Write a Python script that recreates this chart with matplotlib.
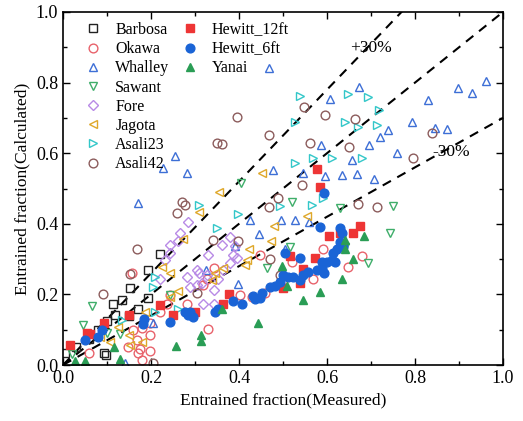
import matplotlib
matplotlib.use('Agg')
import matplotlib.pyplot as plt
from matplotlib.ticker import MultipleLocator

plt.rcParams['font.family'] = 'Liberation Serif'

# measured vs calculated entrained fraction, one list pair per data source
barbosa_x = [0.005, 0.030, 0.060, 0.080, 0.092, 0.098, 0.100, 0.114, 0.118, 0.133, 0.149, 0.152, 0.171, 0.192, 0.194, 0.220]
barbosa_y = [0.035, 0.050, 0.075, 0.100, 0.035, 0.028, 0.125, 0.173, 0.142, 0.184, 0.140, 0.217, 0.158, 0.190, 0.269, 0.315]

okawa_x = [0.060, 0.148, 0.156, 0.160, 0.167, 0.171, 0.175, 0.179, 0.179, 0.198, 0.198, 0.198, 0.220, 0.236, 0.243,
           0.281, 0.319, 0.327, 0.330, 0.342, 0.402, 0.429, 0.448, 0.459, 0.500, 0.521, 0.569, 0.591, 0.648, 0.680]
okawa_y = [0.035, 0.052, 0.260, 0.099, 0.071, 0.033, 0.045, 0.014, 0.104, 0.040, 0.085, 0.118, 0.151, 0.174, 0.198,
           0.174, 0.227, 0.243, 0.102, 0.274, 0.198, 0.193, 0.312, 0.203, 0.241, 0.293, 0.243, 0.328, 0.279, 0.308]

whalley_x = [0.140, 0.171, 0.205, 0.228, 0.255, 0.282, 0.325, 0.391, 0.398, 0.425, 0.446, 0.469, 0.477, 0.495, 0.505,
             0.527, 0.546, 0.558, 0.587, 0.595, 0.607, 0.633, 0.656, 0.669, 0.673, 0.695, 0.707, 0.720, 0.738, 0.758,
             0.792, 0.829, 0.845, 0.873, 0.898, 0.929, 0.961]
whalley_y = [0.005, 0.458, 0.118, 0.557, 0.592, 0.544, 0.269, 0.337, 0.230, 0.411, 0.370, 0.840, 0.552, 0.410, 0.330,
             0.410, 0.543, 0.406, 0.623, 0.536, 0.753, 0.538, 0.581, 0.541, 0.788, 0.623, 0.526, 0.645, 0.666, 0.601,
             0.688, 0.751, 0.670, 0.669, 0.784, 0.770, 0.805]

sawant_x = [0.020, 0.046, 0.065, 0.100, 0.130, 0.243, 0.404, 0.463, 0.516, 0.520, 0.629, 0.641, 0.694, 0.743, 0.751]
sawant_y = [0.030, 0.113, 0.166, 0.090, 0.088, 0.198, 0.517, 0.276, 0.335, 0.463, 0.444, 0.335, 0.288, 0.373, 0.450]

fore_x = [0.220, 0.232, 0.243, 0.243, 0.262, 0.266, 0.281, 0.285, 0.289, 0.304, 0.304, 0.308, 0.315, 0.319, 0.327,
          0.330, 0.342, 0.342, 0.353, 0.361, 0.364, 0.380, 0.380, 0.387, 0.391, 0.395]
fore_y = [0.245, 0.297, 0.340, 0.316, 0.350, 0.373, 0.250, 0.406, 0.222, 0.227, 0.269, 0.260, 0.231, 0.174, 0.255,
          0.312, 0.212, 0.174, 0.245, 0.340, 0.269, 0.364, 0.288, 0.312, 0.336, 0.302]

jagota_x = [0.084, 0.107, 0.126, 0.149, 0.152, 0.179, 0.186, 0.224, 0.243, 0.243, 0.262, 0.273, 0.308, 0.338, 0.345,
            0.355, 0.364, 0.414, 0.417, 0.423, 0.453, 0.472, 0.480, 0.554]
jagota_y = [0.080, 0.066, 0.109, 0.085, 0.057, 0.066, 0.151, 0.278, 0.193, 0.260, 0.210, 0.356, 0.434, 0.241, 0.260,
            0.491, 0.274, 0.283, 0.297, 0.328, 0.543, 0.350, 0.395, 0.422]

asali23_x = [0.133, 0.205, 0.209, 0.209, 0.262, 0.310, 0.349, 0.398, 0.493, 0.527, 0.527, 0.539, 0.565, 0.567, 0.590,
             0.611, 0.641, 0.648, 0.671, 0.679, 0.692, 0.714, 0.717]
asali23_y = [0.127, 0.222, 0.250, 0.151, 0.160, 0.453, 0.387, 0.428, 0.450, 0.573, 0.687, 0.762, 0.453, 0.587, 0.472,
             0.585, 0.689, 0.769, 0.675, 0.585, 0.758, 0.680, 0.722]

asali42_x = [0.090, 0.152, 0.169, 0.205, 0.258, 0.270, 0.277, 0.304, 0.340, 0.349, 0.361, 0.395, 0.398, 0.467, 0.469,
             0.470, 0.489, 0.493, 0.543, 0.548, 0.561, 0.595, 0.651, 0.664, 0.670, 0.713, 0.796, 0.838]
asali42_y = [0.200, 0.258, 0.328, 0.005, 0.430, 0.463, 0.453, 0.203, 0.354, 0.630, 0.625, 0.703, 0.350, 0.448, 0.652,
             0.300, 0.474, 0.255, 0.510, 0.732, 0.628, 0.708, 0.618, 0.696, 0.455, 0.448, 0.585, 0.656]

hewitt12_x = [0.016, 0.054, 0.061, 0.092, 0.150, 0.220, 0.251, 0.300, 0.364, 0.378, 0.501, 0.516, 0.539, 0.546, 0.573,
              0.578, 0.584, 0.604, 0.630, 0.660, 0.674]
hewitt12_y = [0.057, 0.090, 0.088, 0.118, 0.142, 0.170, 0.142, 0.151, 0.172, 0.200, 0.219, 0.310, 0.233, 0.272, 0.304,
              0.554, 0.504, 0.366, 0.373, 0.374, 0.395]

hewitt6_x = [0.050, 0.080, 0.088, 0.181, 0.185, 0.243, 0.277, 0.285, 0.289, 0.296, 0.345, 0.353, 0.387, 0.406, 0.432,
             0.436, 0.448, 0.452, 0.470, 0.482, 0.493, 0.501, 0.505, 0.512, 0.523, 0.539, 0.539, 0.546, 0.557, 0.577,
             0.584, 0.588, 0.588, 0.592, 0.592, 0.599, 0.611, 0.614, 0.618, 0.622, 0.630, 0.630, 0.633, 0.637]
hewitt6_y = [0.071, 0.080, 0.099, 0.115, 0.129, 0.123, 0.151, 0.142, 0.151, 0.137, 0.151, 0.160, 0.181, 0.174, 0.196,
             0.188, 0.190, 0.203, 0.222, 0.224, 0.236, 0.255, 0.316, 0.250, 0.250, 0.241, 0.302, 0.255, 0.264, 0.269,
             0.390, 0.274, 0.293, 0.260, 0.486, 0.293, 0.297, 0.316, 0.293, 0.330, 0.349, 0.387, 0.373, 0.335]

yanai_x = [0.027, 0.050, 0.116, 0.130, 0.256, 0.313, 0.313, 0.361, 0.444, 0.497, 0.510, 0.546, 0.584, 0.635, 0.641,
           0.641, 0.659, 0.683]
yanai_y = [0.010, 0.012, 0.052, 0.016, 0.055, 0.068, 0.086, 0.160, 0.119, 0.280, 0.225, 0.185, 0.206, 0.243, 0.330,
           0.354, 0.299, 0.366]

fig = plt.figure(figsize=(5.23, 4.21), dpi=100)
ax = fig.add_axes([0.1205, 0.133, 0.8413, 0.8385])

# +/-30% band around the perfect agreement line
ref = [0.0, 1.0]
dash = dict(color='black', lw=1.5, dashes=(4.5, 3.5), zorder=1)
ax.plot(ref, ref, **dash)
ax.plot(ref, [1.3 * v for v in ref], **dash)
ax.plot(ref, [0.7 * v for v in ref], **dash)

ms = 6.3
open_kw = dict(ls='none', ms=ms, mfc='none', mew=1.0)
h = []
h += ax.plot(barbosa_x, barbosa_y, 's', mec='#222222', label='Barbosa', **open_kw)
h += ax.plot(okawa_x, okawa_y, 'o', mec='#e8626b', label='Okawa', **open_kw)
h += ax.plot(whalley_x, whalley_y, '^', mec='#3d6fd6', label='Whalley', **open_kw)
h += ax.plot(sawant_x, sawant_y, 'v', mec='#3fae6a', label='Sawant', **open_kw)
h += ax.plot(fore_x, fore_y, 'D', mec='#b88ae6', label='Fore', ls='none', ms=5.3, mfc='none', mew=1.0)
h += ax.plot(jagota_x, jagota_y, '<', mec='#dfa82a', label='Jagota', **open_kw)
h += ax.plot(asali23_x, asali23_y, '>', mec='#33c7c9', label='Asali23', **open_kw)
h += ax.plot(asali42_x, asali42_y, 'o', mec='#8c5c5c', label='Asali42', **open_kw)
h2 = []
h2 += ax.plot(hewitt12_x, hewitt12_y, 's', color='#ee3535', ls='none', ms=5.8, label='Hewitt_12ft')
h2 += ax.plot(hewitt6_x, hewitt6_y, 'o', color='#1a64d6', ls='none', ms=6.3, label='Hewitt_6ft')
h2 += ax.plot(yanai_x, yanai_y, '^', color='#2a9d55', ls='none', ms=6.3, label='Yanai')

leg_kw = dict(frameon=False, fontsize=11.5, handlelength=1.0, handletextpad=0.9,
              labelspacing=0.2, borderaxespad=0, loc='upper left')
leg1 = ax.legend(handles=h, bbox_to_anchor=(0.035, 0.99), **leg_kw)
ax.add_artist(leg1)
ax.legend(handles=h2, bbox_to_anchor=(0.255, 0.99), **leg_kw)

ax.text(0.652, 0.898, '+30%', fontsize=12.5, va='center')
ax.text(0.839, 0.603, '-30%', fontsize=12.5, va='center')

ax.set_xlim(0, 1)
ax.set_ylim(0, 1)
ax.xaxis.set_major_locator(MultipleLocator(0.2))
ax.xaxis.set_minor_locator(MultipleLocator(0.1))
ax.yaxis.set_major_locator(MultipleLocator(0.2))
ax.yaxis.set_minor_locator(MultipleLocator(0.1))
ax.xaxis.set_major_formatter(plt.FormatStrFormatter('%.1f'))
ax.yaxis.set_major_formatter(plt.FormatStrFormatter('%.1f'))
ax.tick_params(which='both', direction='in', top=True, right=True, labelsize=13, width=1.0)
ax.tick_params(which='major', length=5)
ax.tick_params(which='minor', length=3)
for s in ax.spines.values():
    s.set_linewidth(1.2)

ax.set_xlabel('Entrained fraction(Measured)', fontsize=12.5, labelpad=4)
ax.set_ylabel('Entrained fraction(Calculated)', fontsize=12.5, labelpad=4)

fig.savefig('out.png', dpi=100)
